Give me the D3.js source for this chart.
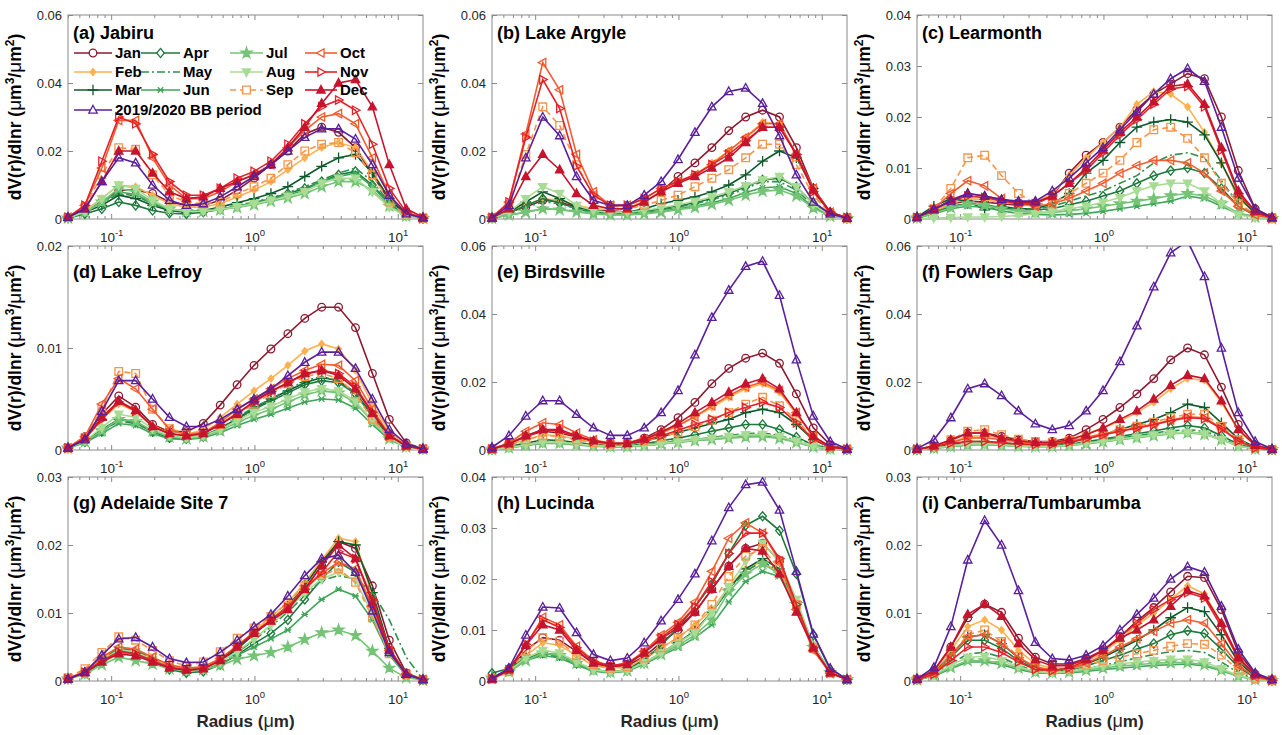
<!DOCTYPE html>
<html>
<head>
<meta charset="utf-8">
<script src="https://cdn.jsdelivr.net/npm/d3@7"></script>
<style>
  body { margin: 0; background: #fff; }
  svg { font-family: "Liberation Sans", Arial, Helvetica, sans-serif; }
</style>
</head>
<body>
<svg id="chart" width="1282" height="735"></svg>
<script>
// AERONET size-distribution radius bins (um)
const radius = [0.05, 0.0656, 0.0861, 0.113, 0.1483, 0.1946, 0.2553, 0.335, 0.4396, 0.5768, 0.7569,
  0.9932, 1.3032, 1.7101, 2.2439, 2.9444, 3.8637, 5.0699, 6.6526, 8.7295, 11.4548, 15.0]

const seriesNames = ["Jan", "Feb", "Mar", "Apr", "May", "Jun", "Jul", "Aug", "Sep", "Oct", "Nov", "Dec", "2019/2020 BB period"]

const xTicks = [0.1, 1, 10]
const xTickExp = ["-1", "0", "1"]

// rows: Jan..Dec, BB period
const jabiru = [
  [0.0004,0.0025,0.005,0.0085,0.0085,0.0075,0.005,0.004,0.004,0.0055,0.0085,0.012,0.016,0.020,0.025,0.027,0.0255,0.021,0.013,0.0055,0.0015,0.0002],
  [0.0004,0.0025,0.006,0.010,0.0095,0.007,0.0045,0.0035,0.0035,0.0045,0.0065,0.0085,0.011,0.0145,0.018,0.021,0.0225,0.021,0.014,0.006,0.0015,0.0002],
  [0.0003,0.002,0.004,0.007,0.006,0.004,0.0025,0.002,0.0025,0.0035,0.0048,0.006,0.0075,0.0095,0.0125,0.0155,0.018,0.019,0.0135,0.006,0.0012,0.0002],
  [0.0003,0.0015,0.003,0.005,0.004,0.0025,0.0017,0.0015,0.002,0.0028,0.0037,0.0048,0.006,0.0075,0.009,0.011,0.013,0.014,0.010,0.0045,0.001,0.0002],
  [0.0003,0.002,0.0045,0.0075,0.0068,0.0045,0.0028,0.0022,0.0025,0.003,0.004,0.005,0.0062,0.0078,0.0095,0.0115,0.0135,0.015,0.011,0.005,0.0012,0.0002],
  [0.0003,0.002,0.0048,0.008,0.0072,0.0048,0.003,0.0022,0.0024,0.0029,0.0038,0.0047,0.0058,0.007,0.0085,0.011,0.0125,0.0135,0.0095,0.0042,0.001,0.0002],
  [0.0003,0.002,0.005,0.009,0.008,0.005,0.003,0.0022,0.0023,0.0027,0.0034,0.0042,0.0052,0.0062,0.0075,0.0095,0.011,0.011,0.0085,0.0038,0.0009,0.0002],
  [0.0003,0.0022,0.006,0.010,0.009,0.0055,0.003,0.0022,0.0023,0.0028,0.0036,0.0045,0.0055,0.0067,0.008,0.0105,0.012,0.012,0.008,0.0035,0.0008,0.0002],
  [0.0004,0.0035,0.013,0.021,0.0205,0.013,0.007,0.005,0.0045,0.005,0.0075,0.0095,0.012,0.016,0.020,0.022,0.0225,0.0195,0.013,0.005,0.001,0.0002],
  [0.0005,0.004,0.015,0.029,0.029,0.018,0.010,0.006,0.006,0.008,0.011,0.013,0.016,0.021,0.026,0.030,0.031,0.028,0.018,0.007,0.0018,0.0003],
  [0.0005,0.004,0.017,0.030,0.028,0.019,0.011,0.007,0.007,0.009,0.012,0.014,0.017,0.022,0.028,0.033,0.035,0.032,0.022,0.009,0.002,0.0003],
  [0.0005,0.003,0.011,0.020,0.020,0.0135,0.008,0.006,0.0065,0.009,0.011,0.013,0.016,0.021,0.027,0.034,0.040,0.041,0.033,0.016,0.003,0.0005],
  [0.0005,0.003,0.011,0.018,0.0165,0.010,0.0055,0.004,0.0045,0.0065,0.0095,0.0125,0.016,0.020,0.024,0.0265,0.0265,0.0235,0.016,0.007,0.0015,0.0003]
]

const lakeArgyle = [
  [0.0003,0.002,0.0035,0.0055,0.005,0.0035,0.0025,0.0025,0.003,0.005,0.008,0.0125,0.0165,0.021,0.026,0.030,0.032,0.030,0.021,0.009,0.002,0.0003],
  [0.0003,0.002,0.004,0.006,0.0055,0.004,0.003,0.0028,0.0032,0.0052,0.008,0.0105,0.013,0.0165,0.020,0.024,0.0285,0.028,0.019,0.0085,0.002,0.0003],
  [0.0003,0.002,0.005,0.008,0.006,0.0035,0.0025,0.002,0.002,0.003,0.0045,0.0055,0.0065,0.008,0.010,0.013,0.017,0.020,0.018,0.009,0.002,0.0003],
  [0.0003,0.0018,0.004,0.006,0.0048,0.003,0.002,0.0018,0.0018,0.0022,0.003,0.0038,0.0048,0.006,0.0075,0.0095,0.0115,0.012,0.0095,0.0045,0.0012,0.0002],
  [0.0003,0.0018,0.0035,0.005,0.0045,0.003,0.002,0.0017,0.0017,0.002,0.0027,0.0035,0.0045,0.0057,0.007,0.009,0.011,0.011,0.0085,0.004,0.001,0.0002],
  [0.0002,0.0012,0.002,0.003,0.0028,0.0022,0.0016,0.0013,0.0013,0.0016,0.0022,0.003,0.0038,0.0048,0.006,0.0078,0.0092,0.0095,0.0075,0.0035,0.0009,0.0002],
  [0.0002,0.0012,0.002,0.003,0.0027,0.0021,0.0015,0.0012,0.0012,0.0015,0.002,0.0027,0.0034,0.0043,0.0055,0.007,0.0082,0.0085,0.0068,0.0032,0.0008,0.0002],
  [0.0003,0.002,0.006,0.0095,0.0075,0.004,0.0025,0.002,0.002,0.0025,0.0033,0.0042,0.0052,0.0065,0.008,0.0098,0.0115,0.0125,0.0095,0.0042,0.001,0.0002],
  [0.0004,0.004,0.019,0.033,0.0275,0.016,0.007,0.004,0.003,0.004,0.0055,0.007,0.0095,0.012,0.0145,0.018,0.022,0.022,0.016,0.007,0.0015,0.0003],
  [0.0004,0.005,0.025,0.046,0.038,0.019,0.008,0.004,0.004,0.006,0.009,0.011,0.013,0.016,0.020,0.024,0.028,0.028,0.019,0.009,0.002,0.0004],
  [0.0004,0.005,0.024,0.041,0.0325,0.0155,0.007,0.004,0.004,0.006,0.009,0.011,0.013,0.016,0.019,0.023,0.027,0.027,0.019,0.008,0.002,0.0004],
  [0.0003,0.003,0.0125,0.019,0.0145,0.0075,0.004,0.003,0.003,0.005,0.008,0.0105,0.0125,0.015,0.018,0.0225,0.027,0.027,0.019,0.0085,0.002,0.0003],
  [0.0003,0.004,0.018,0.030,0.0245,0.0125,0.0055,0.004,0.004,0.007,0.011,0.0175,0.0255,0.033,0.0375,0.0385,0.034,0.0245,0.013,0.005,0.0015,0.0002]
]

const learmonth = [
  [0.0003,0.0015,0.003,0.0035,0.0033,0.003,0.0027,0.003,0.0045,0.009,0.0125,0.015,0.018,0.0215,0.0245,0.0265,0.0285,0.0275,0.020,0.0095,0.002,0.0003],
  [0.0003,0.0015,0.003,0.004,0.0038,0.0032,0.003,0.0032,0.005,0.0085,0.012,0.015,0.018,0.0225,0.025,0.0245,0.022,0.017,0.011,0.004,0.0012,0.0002],
  [0.0004,0.0025,0.004,0.0035,0.0018,0.0025,0.002,0.002,0.003,0.005,0.009,0.0115,0.015,0.018,0.019,0.0195,0.019,0.0165,0.011,0.0045,0.001,0.0002],
  [0.0003,0.0012,0.0025,0.003,0.0028,0.0022,0.0018,0.0018,0.002,0.0028,0.0035,0.0045,0.0055,0.007,0.0085,0.0095,0.010,0.009,0.006,0.0025,0.0007,0.0002],
  [0.0003,0.0012,0.0025,0.003,0.0028,0.0022,0.0019,0.002,0.0025,0.0035,0.0045,0.0055,0.007,0.0085,0.011,0.0125,0.013,0.012,0.0075,0.003,0.0008,0.0002],
  [0.0002,0.001,0.002,0.0025,0.0023,0.0016,0.0011,0.0009,0.0008,0.0009,0.0011,0.0015,0.002,0.0025,0.003,0.0035,0.0045,0.004,0.0025,0.001,0.0004,0.0001],
  [0.0002,0.0011,0.0022,0.003,0.0027,0.002,0.0015,0.0013,0.0013,0.0016,0.002,0.0025,0.003,0.0035,0.004,0.0046,0.005,0.0045,0.003,0.0012,0.0004,0.0001],
  [0.0001,0.0002,0.0003,0.0004,0.0004,0.0005,0.0007,0.001,0.0015,0.002,0.0025,0.0033,0.0042,0.0055,0.0065,0.007,0.007,0.0055,0.003,0.0008,0.0003,0.0001],
  [0.0003,0.002,0.006,0.012,0.0125,0.0085,0.005,0.003,0.003,0.005,0.007,0.009,0.0115,0.015,0.0175,0.018,0.0158,0.012,0.007,0.003,0.001,0.0002],
  [0.0003,0.002,0.005,0.0075,0.0065,0.004,0.003,0.0025,0.003,0.004,0.0055,0.007,0.009,0.0105,0.0115,0.0115,0.011,0.009,0.0055,0.0025,0.0008,0.0002],
  [0.0003,0.0018,0.0035,0.0045,0.0042,0.0035,0.003,0.003,0.0045,0.007,0.0095,0.013,0.0165,0.0195,0.0225,0.0255,0.026,0.022,0.0135,0.005,0.0014,0.0002],
  [0.0003,0.0018,0.0038,0.005,0.0045,0.0038,0.0032,0.0033,0.0045,0.007,0.010,0.0135,0.017,0.020,0.023,0.026,0.0265,0.0225,0.014,0.0055,0.0015,0.0002],
  [0.0004,0.002,0.0035,0.005,0.0045,0.0038,0.0035,0.0035,0.0055,0.008,0.011,0.014,0.0175,0.021,0.0245,0.0275,0.0295,0.027,0.018,0.008,0.002,0.0003]
]

const lakeLefroy = [
  [0.0002,0.0013,0.0035,0.0053,0.0042,0.0025,0.0018,0.0018,0.0026,0.0044,0.0064,0.0083,0.0099,0.0114,0.0129,0.014,0.014,0.012,0.0075,0.003,0.0007,0.0001],
  [0.0002,0.0011,0.003,0.0045,0.0038,0.0024,0.0016,0.0015,0.002,0.0032,0.0045,0.0058,0.007,0.0083,0.0097,0.0104,0.0099,0.0078,0.0045,0.0018,0.0005,0.0001],
  [0.0002,0.0009,0.002,0.003,0.0028,0.0018,0.0012,0.0011,0.0014,0.0021,0.0031,0.0041,0.005,0.0058,0.0066,0.0071,0.0068,0.0056,0.0034,0.0014,0.0004,0.0001],
  [0.0002,0.0008,0.0018,0.003,0.0027,0.0018,0.0012,0.0011,0.0013,0.002,0.003,0.004,0.0048,0.0056,0.0064,0.0068,0.0066,0.0055,0.0033,0.0013,0.0004,0.0001],
  [0.0002,0.0009,0.0019,0.0028,0.0026,0.0018,0.0013,0.0012,0.0014,0.0021,0.0032,0.0042,0.005,0.0059,0.0068,0.0072,0.0068,0.0055,0.0033,0.0013,0.0004,0.0001],
  [0.0002,0.0007,0.0016,0.0026,0.0024,0.0016,0.0011,0.001,0.0012,0.0017,0.0024,0.003,0.0035,0.0041,0.0047,0.005,0.0049,0.0041,0.0025,0.001,0.0003,0.0001],
  [0.0002,0.0008,0.0019,0.003,0.0028,0.0019,0.0013,0.0011,0.0013,0.0019,0.0027,0.0034,0.004,0.0047,0.0054,0.0058,0.0056,0.0046,0.0028,0.0011,0.0003,0.0001],
  [0.0002,0.0009,0.0022,0.0035,0.0032,0.0021,0.0014,0.0012,0.0014,0.002,0.0029,0.0037,0.0043,0.005,0.0057,0.006,0.0058,0.0048,0.0029,0.0012,0.0003,0.0001],
  [0.0002,0.0012,0.004,0.0077,0.0075,0.004,0.0021,0.0016,0.0017,0.0025,0.0035,0.0045,0.0055,0.0065,0.0072,0.0075,0.007,0.0055,0.003,0.0013,0.0004,0.0001],
  [0.0002,0.0013,0.0045,0.007,0.006,0.004,0.002,0.0015,0.0017,0.0027,0.004,0.005,0.006,0.007,0.0078,0.0084,0.0083,0.0068,0.004,0.0015,0.0004,0.0001],
  [0.0002,0.0011,0.003,0.0047,0.0038,0.0023,0.0016,0.0014,0.0016,0.0025,0.0036,0.0047,0.0057,0.0066,0.0074,0.0078,0.0075,0.0062,0.0037,0.0014,0.0004,0.0001],
  [0.0002,0.0011,0.0032,0.0048,0.0039,0.0023,0.0016,0.0014,0.0016,0.0025,0.0035,0.0048,0.0058,0.0066,0.0075,0.0078,0.0073,0.006,0.0036,0.0014,0.0004,0.0001],
  [0.0002,0.001,0.0038,0.0068,0.0068,0.005,0.0032,0.0023,0.0023,0.003,0.004,0.005,0.006,0.0073,0.0086,0.0096,0.0096,0.008,0.005,0.002,0.0006,0.0001]
]

const birdsville = [
  [0.0003,0.002,0.004,0.0055,0.005,0.0038,0.0025,0.002,0.002,0.0035,0.006,0.0095,0.014,0.0195,0.024,0.027,0.0285,0.0255,0.0165,0.0065,0.0015,0.0002],
  [0.0003,0.0015,0.003,0.0045,0.0042,0.0032,0.0022,0.0018,0.0019,0.003,0.0048,0.0072,0.0098,0.0125,0.0155,0.018,0.0195,0.017,0.0105,0.004,0.001,0.0002],
  [0.0002,0.001,0.002,0.003,0.0028,0.0022,0.0016,0.0014,0.0016,0.0025,0.0038,0.0052,0.0065,0.0078,0.009,0.011,0.012,0.011,0.0075,0.003,0.0008,0.0002],
  [0.0002,0.0008,0.0015,0.0022,0.0022,0.0018,0.0013,0.0011,0.0012,0.0018,0.0027,0.0035,0.0045,0.0055,0.0065,0.0075,0.0075,0.006,0.0038,0.0015,0.0004,0.0001],
  [0.0002,0.0008,0.0015,0.0022,0.0021,0.0016,0.0012,0.001,0.0011,0.0015,0.0021,0.0026,0.0031,0.0037,0.0043,0.0048,0.005,0.0043,0.0028,0.0012,0.0003,0.0001],
  [0.0001,0.0006,0.0013,0.0019,0.0019,0.0015,0.0011,0.0009,0.001,0.0013,0.0018,0.0023,0.0028,0.0032,0.0036,0.004,0.0041,0.0036,0.0024,0.001,0.0003,0.0001],
  [0.0001,0.0007,0.0014,0.002,0.002,0.0016,0.0012,0.001,0.001,0.0013,0.0018,0.0022,0.0027,0.0031,0.0035,0.0038,0.0039,0.0034,0.0022,0.0009,0.0003,0.0001],
  [0.0001,0.0007,0.0015,0.0023,0.0023,0.0018,0.0013,0.0011,0.0011,0.0014,0.0019,0.0024,0.003,0.0035,0.004,0.0045,0.0046,0.004,0.0026,0.0011,0.0003,0.0001],
  [0.0002,0.0014,0.003,0.0042,0.004,0.003,0.0021,0.0017,0.0018,0.0026,0.0038,0.0052,0.0068,0.0088,0.011,0.0135,0.0155,0.013,0.009,0.0035,0.0009,0.0002],
  [0.0003,0.002,0.0055,0.008,0.0075,0.005,0.003,0.002,0.002,0.0032,0.005,0.0072,0.0098,0.013,0.016,0.0185,0.020,0.0175,0.011,0.004,0.001,0.0002],
  [0.0003,0.0018,0.004,0.006,0.0055,0.004,0.0025,0.0018,0.0019,0.0028,0.0042,0.0058,0.0075,0.009,0.011,0.0125,0.014,0.0125,0.008,0.0032,0.0008,0.0002],
  [0.0003,0.0018,0.0042,0.006,0.006,0.0042,0.0027,0.002,0.002,0.0032,0.0052,0.0078,0.011,0.014,0.017,0.0195,0.021,0.018,0.011,0.004,0.001,0.0002],
  [0.0008,0.0042,0.010,0.0145,0.0145,0.0105,0.0065,0.0043,0.0043,0.0065,0.011,0.0175,0.028,0.039,0.047,0.054,0.0555,0.0455,0.0265,0.010,0.0025,0.0003]
]

const fowlersGap = [
  [0.0002,0.0012,0.0028,0.005,0.005,0.004,0.003,0.0025,0.0025,0.0035,0.006,0.009,0.0125,0.0165,0.021,0.0265,0.030,0.028,0.0185,0.0075,0.0015,0.0002],
  [0.0002,0.001,0.0022,0.004,0.0042,0.0034,0.0026,0.0022,0.0022,0.003,0.0048,0.0065,0.0085,0.011,0.014,0.018,0.021,0.0205,0.014,0.0058,0.0013,0.0002],
  [0.0002,0.0008,0.0016,0.0025,0.0025,0.0021,0.0017,0.0015,0.0016,0.0022,0.0033,0.0045,0.006,0.0075,0.009,0.011,0.0135,0.0125,0.008,0.0033,0.0008,0.0001],
  [0.0001,0.0006,0.0012,0.0018,0.0019,0.0016,0.0013,0.0012,0.0013,0.0017,0.0024,0.0032,0.004,0.0048,0.0056,0.0065,0.0072,0.0065,0.0042,0.0017,0.0004,0.0001],
  [0.0001,0.0006,0.0012,0.0018,0.0018,0.0015,0.0012,0.0011,0.0012,0.0015,0.0021,0.0028,0.0035,0.0042,0.005,0.0056,0.006,0.0055,0.0036,0.0015,0.0004,0.0001],
  [0.0001,0.0005,0.001,0.0015,0.0016,0.0014,0.0011,0.001,0.0011,0.0014,0.0019,0.0025,0.0031,0.0037,0.0043,0.0048,0.0052,0.0048,0.0031,0.0013,0.0003,0.0001],
  [0.0001,0.0005,0.001,0.0015,0.0016,0.0014,0.0011,0.001,0.001,0.0013,0.0018,0.0024,0.003,0.0036,0.0042,0.0047,0.005,0.0046,0.003,0.0012,0.0003,0.0001],
  [0.0001,0.0006,0.0012,0.0018,0.0019,0.0016,0.0012,0.0011,0.0011,0.0014,0.002,0.0026,0.0032,0.0038,0.0044,0.0049,0.0052,0.0047,0.003,0.0012,0.0003,0.0001],
  [0.0002,0.0012,0.003,0.0055,0.006,0.0045,0.0032,0.0025,0.0023,0.0028,0.0038,0.0048,0.006,0.007,0.0082,0.0095,0.0105,0.0105,0.007,0.003,0.0008,0.0001],
  [0.0002,0.001,0.0022,0.0035,0.0036,0.003,0.0024,0.002,0.002,0.0026,0.0036,0.0046,0.0056,0.0066,0.0076,0.0088,0.0098,0.0095,0.0065,0.0027,0.0007,0.0001],
  [0.0002,0.001,0.002,0.0025,0.0025,0.0021,0.0018,0.0016,0.0017,0.0023,0.0033,0.0044,0.0055,0.0064,0.0074,0.0086,0.0095,0.0092,0.0062,0.0026,0.0006,0.0001],
  [0.0002,0.0012,0.003,0.005,0.005,0.0035,0.0027,0.0022,0.0022,0.003,0.0045,0.0065,0.009,0.0115,0.015,0.019,0.022,0.021,0.0145,0.006,0.0014,0.0002],
  [0.0004,0.003,0.0095,0.018,0.0195,0.016,0.0115,0.0077,0.006,0.0072,0.0115,0.0175,0.026,0.0365,0.048,0.058,0.0615,0.051,0.030,0.011,0.0025,0.0003]
]

const adelaide = [
  [0.0003,0.0012,0.003,0.0045,0.004,0.003,0.002,0.0016,0.0019,0.003,0.0048,0.007,0.009,0.011,0.0135,0.017,0.0205,0.0195,0.014,0.006,0.0012,0.0002],
  [0.0003,0.0013,0.0032,0.0048,0.0045,0.0033,0.0022,0.0018,0.002,0.0032,0.005,0.0073,0.0095,0.0115,0.0145,0.0178,0.021,0.0205,0.0125,0.0045,0.001,0.0002],
  [0.0003,0.0012,0.003,0.0044,0.004,0.003,0.002,0.0016,0.0018,0.0029,0.0047,0.0069,0.009,0.011,0.014,0.0175,0.0205,0.020,0.013,0.0048,0.001,0.0002],
  [0.0003,0.0011,0.0028,0.0045,0.0042,0.0028,0.0017,0.0012,0.0014,0.0024,0.0038,0.0055,0.007,0.009,0.012,0.015,0.0175,0.016,0.011,0.0045,0.001,0.0002],
  [0.0004,0.0013,0.0032,0.0048,0.0045,0.0032,0.0021,0.0017,0.0018,0.0028,0.0042,0.006,0.008,0.0102,0.0125,0.0148,0.0155,0.015,0.013,0.009,0.0035,0.0002],
  [0.0003,0.0011,0.0028,0.0042,0.004,0.003,0.002,0.0015,0.0017,0.0025,0.0038,0.005,0.0062,0.0075,0.0098,0.012,0.0135,0.0125,0.009,0.0038,0.0008,0.0001],
  [0.0003,0.001,0.0024,0.0035,0.003,0.0025,0.0018,0.0015,0.0017,0.0023,0.0032,0.0037,0.0042,0.005,0.0061,0.0071,0.0075,0.0067,0.0044,0.0019,0.0005,0.0001],
  [0.0003,0.0012,0.003,0.0046,0.0043,0.0031,0.002,0.0016,0.0018,0.0028,0.0043,0.0062,0.0082,0.0105,0.013,0.015,0.016,0.0148,0.0098,0.0042,0.0009,0.0002],
  [0.0005,0.0018,0.0042,0.0065,0.006,0.0045,0.003,0.0022,0.0028,0.0043,0.0063,0.0078,0.0095,0.0115,0.014,0.0155,0.0165,0.0145,0.0093,0.004,0.001,0.0002],
  [0.0004,0.0014,0.0035,0.005,0.0047,0.0035,0.0024,0.0019,0.0021,0.0033,0.0052,0.0072,0.009,0.011,0.0135,0.0158,0.0175,0.0165,0.011,0.0045,0.001,0.0002],
  [0.0003,0.0013,0.003,0.0043,0.004,0.003,0.002,0.0016,0.0018,0.003,0.005,0.007,0.009,0.0108,0.0135,0.016,0.019,0.018,0.012,0.0048,0.001,0.0002],
  [0.0003,0.0012,0.0028,0.004,0.0037,0.0028,0.0019,0.0016,0.0018,0.003,0.005,0.007,0.0088,0.0105,0.0135,0.017,0.020,0.018,0.0115,0.0045,0.001,0.0002],
  [0.0003,0.0013,0.0038,0.0062,0.0064,0.005,0.0033,0.0027,0.0028,0.0042,0.006,0.008,0.0098,0.0125,0.0155,0.018,0.0185,0.016,0.0103,0.0042,0.001,0.0002]
]

const lucinda = [
  [0.0005,0.002,0.006,0.0085,0.008,0.0058,0.0035,0.0028,0.003,0.0048,0.0075,0.010,0.0135,0.018,0.0225,0.026,0.027,0.0235,0.015,0.0065,0.0017,0.0003],
  [0.0005,0.0018,0.005,0.0075,0.007,0.005,0.003,0.0025,0.0028,0.0042,0.0065,0.0085,0.011,0.014,0.0185,0.022,0.0235,0.021,0.0145,0.0065,0.0017,0.0003],
  [0.0008,0.002,0.0045,0.0055,0.005,0.0035,0.0022,0.0018,0.002,0.0035,0.0055,0.0075,0.0098,0.0135,0.018,0.022,0.024,0.022,0.0155,0.007,0.0018,0.0003],
  [0.0015,0.0025,0.0045,0.0055,0.005,0.0035,0.0022,0.0018,0.0022,0.0042,0.007,0.0105,0.0145,0.019,0.025,0.0305,0.0323,0.0295,0.021,0.009,0.0022,0.0003],
  [0.0008,0.002,0.0042,0.0052,0.0047,0.0033,0.002,0.0017,0.002,0.0035,0.0055,0.0075,0.0098,0.0135,0.018,0.0215,0.0235,0.0215,0.015,0.0068,0.0018,0.0003],
  [0.0006,0.0018,0.004,0.005,0.0045,0.0031,0.0019,0.0016,0.0019,0.0033,0.005,0.0065,0.0085,0.011,0.0155,0.0195,0.0215,0.0205,0.0145,0.0065,0.0017,0.0003],
  [0.0006,0.0018,0.004,0.0055,0.005,0.0035,0.0021,0.0017,0.002,0.0035,0.0052,0.007,0.009,0.012,0.0175,0.021,0.023,0.021,0.015,0.0066,0.0017,0.0003],
  [0.0006,0.002,0.0045,0.006,0.0055,0.0038,0.0022,0.0018,0.0021,0.0036,0.0055,0.0075,0.0095,0.0135,0.0185,0.0235,0.027,0.0235,0.016,0.007,0.0018,0.0003],
  [0.0004,0.0018,0.0058,0.0085,0.0078,0.005,0.0032,0.0025,0.0028,0.0045,0.0065,0.0085,0.011,0.015,0.0205,0.0245,0.026,0.022,0.015,0.0065,0.0016,0.0003],
  [0.0004,0.0022,0.007,0.0125,0.011,0.0068,0.004,0.003,0.0035,0.0058,0.009,0.0115,0.0155,0.0215,0.028,0.031,0.029,0.0235,0.014,0.006,0.0015,0.0003],
  [0.0004,0.0022,0.0072,0.012,0.0105,0.0065,0.0038,0.003,0.0034,0.0056,0.0085,0.011,0.0145,0.0195,0.025,0.029,0.029,0.024,0.015,0.0065,0.0016,0.0003],
  [0.0004,0.0022,0.007,0.011,0.010,0.006,0.0035,0.0028,0.0032,0.0055,0.0082,0.0105,0.0135,0.018,0.0225,0.026,0.0255,0.021,0.0135,0.0065,0.0016,0.0003],
  [0.0005,0.0025,0.009,0.0145,0.0143,0.0095,0.0052,0.004,0.0045,0.0075,0.0118,0.016,0.021,0.0275,0.034,0.0385,0.039,0.0335,0.0215,0.0092,0.0025,0.0003]
]

const canberra = [
  [0.0003,0.0015,0.005,0.0093,0.0113,0.0101,0.0063,0.0035,0.0025,0.0025,0.0033,0.0045,0.0065,0.0088,0.0108,0.0131,0.0154,0.0152,0.0105,0.0042,0.001,0.0002],
  [0.0003,0.0014,0.0045,0.008,0.009,0.0075,0.0045,0.0025,0.0019,0.002,0.0028,0.0042,0.006,0.0082,0.010,0.012,0.014,0.0128,0.0085,0.0035,0.0009,0.0002],
  [0.0003,0.0012,0.0038,0.0065,0.0068,0.0055,0.0034,0.002,0.0016,0.0018,0.0025,0.0035,0.0047,0.006,0.0075,0.0093,0.0108,0.0102,0.0068,0.0028,0.0007,0.0001],
  [0.0002,0.001,0.0035,0.006,0.006,0.0048,0.003,0.0018,0.0015,0.0016,0.0022,0.003,0.0038,0.0047,0.0055,0.0068,0.0074,0.007,0.0047,0.002,0.0005,0.0001],
  [0.0002,0.0009,0.0025,0.004,0.0042,0.0035,0.0023,0.0015,0.0013,0.0014,0.0018,0.0023,0.0028,0.0034,0.0039,0.0043,0.0045,0.0042,0.0028,0.0012,0.0003,0.0001],
  [0.0002,0.0007,0.0018,0.0028,0.0028,0.0024,0.0017,0.0012,0.0011,0.0012,0.0014,0.0017,0.0019,0.0021,0.0023,0.0024,0.0025,0.0022,0.0015,0.0007,0.0002,0.0001],
  [0.0002,0.0008,0.002,0.003,0.003,0.0026,0.0019,0.0013,0.0012,0.0013,0.0016,0.0019,0.0022,0.0024,0.0026,0.0027,0.0027,0.0024,0.0016,0.0007,0.0002,0.0001],
  [0.0002,0.0009,0.0023,0.0035,0.0036,0.003,0.0021,0.0014,0.0012,0.0014,0.0018,0.0022,0.0025,0.0028,0.003,0.0032,0.0032,0.0028,0.0018,0.0008,0.0002,0.0001],
  [0.0002,0.0011,0.0038,0.0068,0.0075,0.0058,0.0036,0.002,0.0016,0.0017,0.0023,0.003,0.0035,0.004,0.0045,0.0051,0.0055,0.0054,0.0038,0.0016,0.0004,0.0001],
  [0.0002,0.0011,0.0037,0.0065,0.0068,0.0055,0.0035,0.002,0.0016,0.0018,0.0026,0.0037,0.005,0.0062,0.0073,0.0085,0.009,0.0085,0.0055,0.0023,0.0006,0.0001],
  [0.0002,0.001,0.003,0.005,0.005,0.0042,0.0028,0.0017,0.0015,0.0019,0.003,0.0045,0.0065,0.0085,0.0105,0.012,0.013,0.0122,0.008,0.0033,0.0008,0.0001],
  [0.0003,0.0015,0.005,0.0098,0.0113,0.0095,0.0055,0.0031,0.0022,0.0023,0.0032,0.0045,0.0063,0.0075,0.009,0.011,0.0133,0.0125,0.0085,0.0035,0.0009,0.0002],
  [0.0003,0.002,0.008,0.0178,0.0236,0.020,0.0133,0.0057,0.0033,0.0031,0.0038,0.0052,0.0075,0.0098,0.0122,0.015,0.0168,0.016,0.011,0.0047,0.0012,0.0002]
]

const panels = [
  { title: "(a) Jabiru", data: jabiru, yTicks: [0, 0.02, 0.04, 0.06] },
  { title: "(b) Lake Argyle", data: lakeArgyle, yTicks: [0, 0.02, 0.04, 0.06] },
  { title: "(c) Learmonth", data: learmonth, yTicks: [0, 0.01, 0.02, 0.03, 0.04] },
  { title: "(d) Lake Lefroy", data: lakeLefroy, yTicks: [0, 0.01, 0.02] },
  { title: "(e) Birdsville", data: birdsville, yTicks: [0, 0.02, 0.04, 0.06] },
  { title: "(f) Fowlers Gap", data: fowlersGap, yTicks: [0, 0.02, 0.04, 0.06] },
  { title: "(g) Adelaide Site 7", data: adelaide, yTicks: [0, 0.01, 0.02, 0.03] },
  { title: "(h) Lucinda", data: lucinda, yTicks: [0, 0.01, 0.02, 0.03, 0.04] },
  { title: "(i) Canberra/Tumbarumba", data: canberra, yTicks: [0, 0.01, 0.02, 0.03] }
]

// line + marker style for each series (same order as seriesNames)
const styles = [
  { color: "#8c1a30", marker: "circle", fill: false },
  { color: "#fdb14f", marker: "dot", fill: true },
  { color: "#0d5a2b", marker: "plus", fill: false },
  { color: "#1d7a3c", marker: "diamond", fill: false },
  { color: "#2f8f4c", marker: null, dash: "8,3,2,3" },
  { color: "#3fa65a", marker: "asterisk", fill: false },
  { color: "#74c476", marker: "star", fill: true },
  { color: "#a8dc94", marker: "down", fill: true },
  { color: "#f7944a", marker: "square", fill: false, dash: "6,4" },
  { color: "#f25c30", marker: "left", fill: false },
  { color: "#e3232a", marker: "right", fill: false },
  { color: "#c5152e", marker: "up", fill: true },
  { color: "#5a1f9b", marker: "up", fill: false }
]

function markerPath(type) {
  const s = 3.8
  switch (type) {
    case "circle": return d3.symbol(d3.symbolCircle, Math.PI * s * s)()
    case "dot": return `M0,-3.4L2.8,0L0,3.4L-2.8,0Z`
    case "plus": return `M${-s * 1.4},0H${s * 1.4}M0,${-s * 1.4}V${s * 1.4}`
    case "asterisk": return `M-2.7,-2.7L2.7,2.7M-2.7,2.7L2.7,-2.7M-3.4,0H3.4`
    case "diamond": return `M0,${-s * 1.2}L${s},0L0,${s * 1.2}L${-s},0Z`
    case "star": return d3.symbol(d3.symbolStar, 36)()
    case "square": return `M${-s},${-s}H${s}V${s}H${-s}Z`
    case "up": return `M0,${-s * 1.2}L${s * 1.1},${s * 0.8}L${-s * 1.1},${s * 0.8}Z`
    case "down": return `M0,${s * 1.2}L${s * 1.1},${-s * 0.8}L${-s * 1.1},${-s * 0.8}Z`
    case "left": return `M${-s * 1.2},0L${s * 0.8},${-s * 1.1}L${s * 0.8},${s * 1.1}Z`
    case "right": return `M${s * 1.2},0L${-s * 0.8},${-s * 1.1}L${-s * 0.8},${s * 1.1}Z`
  }
  return null
}

const svg = d3.select("#chart")
const colLeft = [68, 492, 917]
const rowTop = [15, 246, 477]
const W = 355, H = 204
const axisColor = "#8a8a8a"
const labelColor = "#262626"

const minorTicks = []
for (let e = -2; e <= 1; e++)
  for (let m = 2; m <= 9; m++) {
    const v = m * Math.pow(10, e)
    if (v >= 0.05 && v <= 15) minorTicks.push(v)
  }

function styleAxis(sel) {
  sel.select(".domain").remove()
  sel.selectAll(".tick line").attr("stroke", axisColor)
  sel.selectAll(".tick text").attr("fill", labelColor).attr("font-size", 13)
}

panels.forEach((p, k) => {
  const col = k % 3, row = Math.floor(k / 3)
  const left = colLeft[col], top = rowTop[row]
  const g = svg.append("g").attr("transform", `translate(${left},${top})`)

  const x = d3.scaleLog().domain([0.05, 15]).range([0, W])
  const y = d3.scaleLinear().domain([0, d3.max(p.yTicks)]).range([H, 0])

  // ticks on all four sides, pointing inward
  g.append("g").attr("transform", `translate(0,${H})`)
    .call(d3.axisBottom(x).tickValues(minorTicks).tickSize(-3).tickFormat(""))
    .call(styleAxis)
  g.append("g")
    .call(d3.axisTop(x).tickValues(minorTicks).tickSize(-3).tickFormat(""))
    .call(styleAxis)
  g.append("g").call(d3.axisTop(x).tickValues(xTicks).tickSize(-5).tickFormat(""))
    .call(styleAxis)
  const xb = g.append("g").attr("transform", `translate(0,${H})`)
    .call(d3.axisBottom(x).tickValues(xTicks).tickSize(-5).tickFormat(""))
    .call(styleAxis)
  xb.selectAll(".tick").append("text")
    .attr("y", 23).attr("text-anchor", "middle").attr("fill", labelColor).attr("font-size", 13.5)
    .each(function (d, i) {
      const t = d3.select(this)
      t.append("tspan").text("10")
      t.append("tspan").attr("dy", -6).attr("font-size", 9.5).text(xTickExp[i])
    })

  g.append("g")
    .call(d3.axisLeft(y).tickValues(p.yTicks).tickSize(-5).tickPadding(6)
      .tickFormat(d => d === 0 ? "0" : d.toFixed(2)))
    .call(styleAxis)
  g.append("g").attr("transform", `translate(${W},0)`)
    .call(d3.axisRight(y).tickValues(p.yTicks).tickSize(-5).tickFormat(""))
    .call(styleAxis)

  g.append("rect").attr("width", W).attr("height", H)
    .attr("fill", "none").attr("stroke", axisColor).attr("stroke-width", 1)

  // data
  const clipId = `clip${k}`
  g.append("clipPath").attr("id", clipId).append("rect")
    .attr("x", -10).attr("y", 0).attr("width", W + 20).attr("height", H + 10)
  const plot = g.append("g").attr("clip-path", `url(#${clipId})`)

  const line = d3.line().x((d, i) => x(radius[i])).y(d => y(d))

  p.data.forEach((vals, s) => {
    const st = styles[s]
    plot.append("path").attr("d", line(vals))
      .attr("fill", "none").attr("stroke", st.color).attr("stroke-width", 1.6)
      .attr("stroke-dasharray", st.dash || null)
    if (st.marker) {
      plot.append("g").selectAll("path").data(vals).join("path")
        .attr("transform", (d, i) => `translate(${x(radius[i])},${y(d)})`)
        .attr("d", markerPath(st.marker))
        .attr("fill", st.fill ? st.color : "none")
        .attr("stroke", st.color).attr("stroke-width", 1.3)
    }
  })

  // panel title
  g.append("text").attr("x", 5).attr("y", row === 0 ? 24 : 32)
    .attr("font-size", 18).attr("font-weight", "bold").attr("fill", "#000")
    .text(p.title)

  // y label
  const yl = g.append("text")
    .attr("transform", `translate(${-47},${H / 2}) rotate(-90)`)
    .attr("text-anchor", "middle").attr("font-size", 17.5).attr("font-weight", "bold").attr("fill", "#000")
  yl.append("tspan").text("dV(r)/dlnr (")
  yl.append("tspan").attr("font-weight", "normal").attr("font-size", 19).text("\u03bc")
  yl.append("tspan").text("m")
  yl.append("tspan").attr("dy", -7).attr("font-size", 12).text("3")
  yl.append("tspan").attr("dy", 7).text("/")
  yl.append("tspan").attr("font-weight", "normal").attr("font-size", 19).text("\u03bc")
  yl.append("tspan").text("m")
  yl.append("tspan").attr("dy", -7).attr("font-size", 12).text("2")
  yl.append("tspan").attr("dy", 7).text(")")

  if (row === 2) {
    const xl = g.append("text").attr("x", W / 2).attr("y", 250)
      .attr("text-anchor", "middle").attr("font-size", 17).attr("font-weight", "bold").attr("fill", "#262626")
    xl.append("tspan").text("Radius (")
    xl.append("tspan").attr("font-weight", "normal").attr("font-size", 18).text("\u03bc")
    xl.append("tspan").text("m)")
  }

  // legend inside panel (a)
  if (k === 0) {
    const legX = [[6, 44], [73, 112], [162, 195], [237, 269]]
    const legY = [38, 57, 75, 95]
    const leg = g.append("g")
    seriesNames.forEach((name, s) => {
      const c = s < 12 ? Math.floor(s / 3) : 0
      const r = s < 12 ? s % 3 : 3
      const st = styles[s]
      const [x0, x1] = legX[c]
      const item = leg.append("g").attr("transform", `translate(0,${legY[r]})`)
      item.append("line").attr("x1", x0).attr("x2", x1)
        .attr("stroke", st.color).attr("stroke-width", 1.6)
        .attr("stroke-dasharray", st.dash || null)
      if (st.marker) {
        item.append("path").attr("transform", `translate(${(x0 + x1) / 2},0)`)
          .attr("d", markerPath(st.marker))
          .attr("fill", st.fill ? st.color : "#fff")
          .attr("stroke", st.color).attr("stroke-width", 1.3)
      }
      item.append("text").attr("x", x1 + 3).attr("dy", "0.35em")
        .attr("font-size", 15).attr("font-weight", "bold").attr("fill", "#000")
        .text(name)
    })
  }
})
</script>
</body>
</html>
